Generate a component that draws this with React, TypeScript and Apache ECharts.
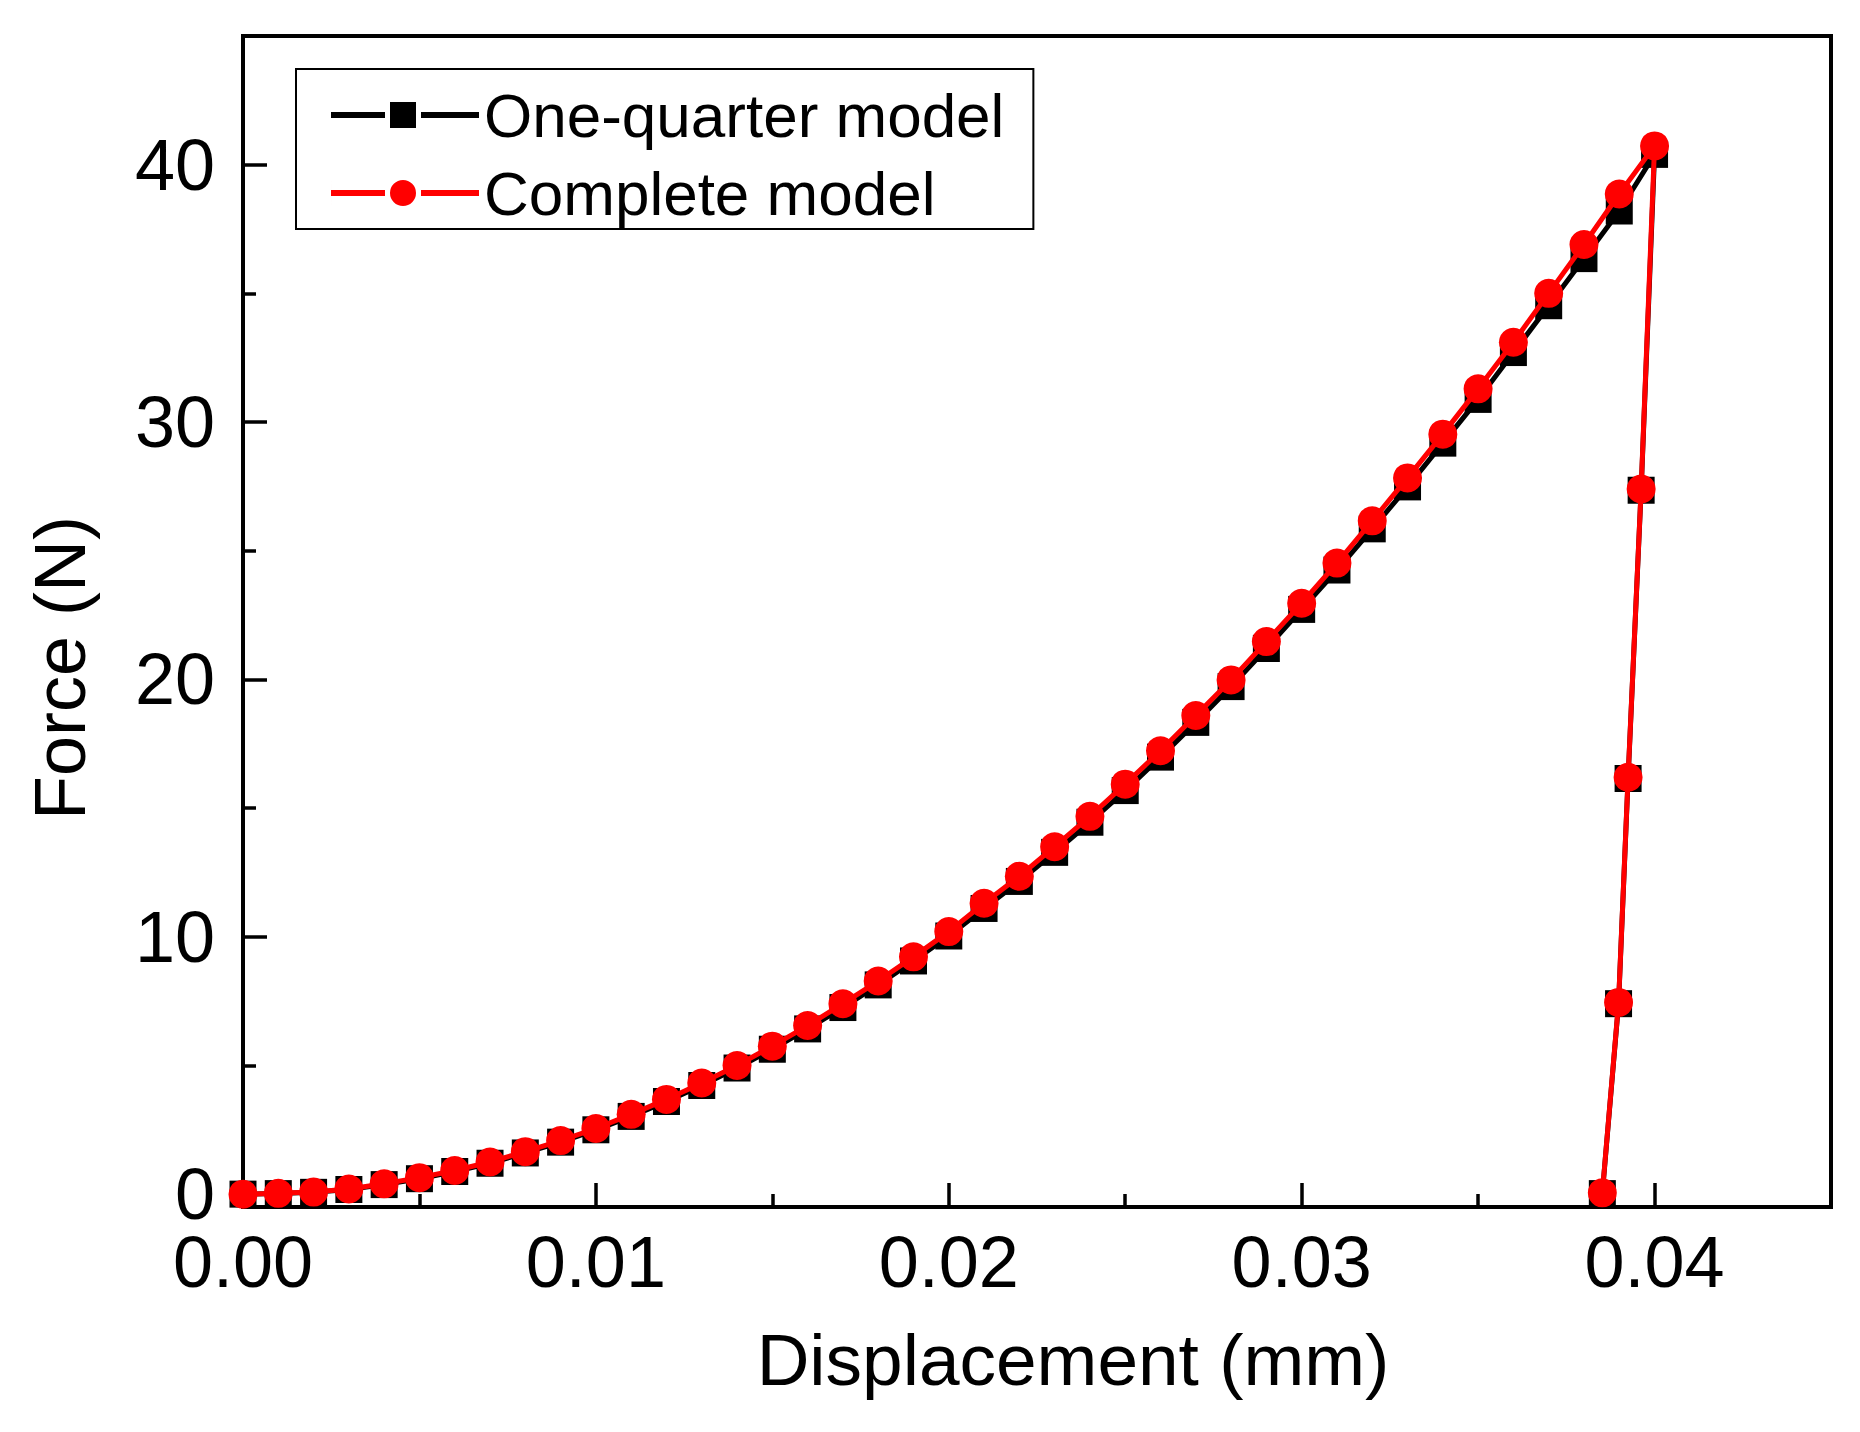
import React, { useEffect, useRef } from "react";
import * as echarts from "echarts";

// Displacement (mm) for the loading branch and the unloading branch
const loadDisplacement = [
  0, 0.001, 0.002, 0.003, 0.004, 0.005, 0.006, 0.007, 0.008, 0.009,
  0.01, 0.011, 0.012, 0.013, 0.014, 0.015, 0.016, 0.017, 0.018, 0.019,
  0.02, 0.021, 0.022, 0.023, 0.024, 0.025, 0.026, 0.027, 0.028, 0.029,
  0.03, 0.031, 0.032, 0.033, 0.034, 0.035, 0.036, 0.037, 0.038, 0.039,
  0.04,
];
const unloadDisplacement = [0.03962, 0.03925, 0.03898, 0.03852];

// Force (N) — One-quarter model
const quarterLoad = [
  0, 0.02, 0.07, 0.18, 0.37, 0.6, 0.88, 1.2, 1.6, 2.02,
  2.5, 3.02, 3.6, 4.22, 4.9, 5.63, 6.42, 7.25, 8.13, 9.06,
  10.03, 11.1, 12.15, 13.28, 14.45, 15.68, 16.98, 18.33, 19.72, 21.2,
  22.72, 24.25, 25.85, 27.48, 29.18, 30.88, 32.7, 34.52, 36.35, 38.2,
  40.4,
];
const quarterUnload = [27.35, 16.15, 7.4, 0.02];

// Force (N) — Complete model
const completeLoad = [
  0, 0.03, 0.08, 0.2, 0.4, 0.64, 0.92, 1.25, 1.65, 2.08,
  2.55, 3.1, 3.68, 4.32, 5.0, 5.75, 6.55, 7.4, 8.28, 9.22,
  10.2, 11.3, 12.35, 13.5, 14.68, 15.93, 17.23, 18.6, 19.98, 21.47,
  22.96, 24.52, 26.16, 27.83, 29.53, 31.29, 33.1, 35.0, 36.9, 38.86,
  40.73,
];
const completeUnload = [27.4, 16.2, 7.45, 0.05];

const seriesNames = ["One-quarter model", "Complete model"];

// Tick values
const xMajorTicks = [0, 0.01, 0.02, 0.03, 0.04];
const xMinorTicks = [0.005, 0.015, 0.025, 0.035];
const yMajorTicks = [0, 10, 20, 30, 40];
const yMinorTicks = [5, 15, 25, 35];

const xTitle = "Displacement (mm)";
const yTitle = "Force (N)";

const FONT = "'Liberation Sans', Arial, sans-serif";

// Legend icons: line – gap – marker – gap – line (148 x 26 box)
const ICON_SQUARE = "path://M0,10H54V16H0Z M59,0H85V26H59Z M90,10H148V16H90Z";
const ICON_CIRCLE =
  "path://M0,10H54V16H0Z M59,13A13,13 0 1,0 85,13A13,13 0 1,0 59,13Z M90,10H148V16H90Z M0,0H0.01V26H0Z";

function pairs(xs: number[], ys: number[]) {
  return xs.map((x, i) => [x, ys[i]]);
}

export default function App() {
  const ref = useRef<HTMLDivElement>(null);

  useEffect(() => {
    if (!ref.current) return;
    const chart = echarts.init(ref.current, null, { renderer: "svg" });

    const quarterData = [
      ...pairs(loadDisplacement, quarterLoad),
      ...pairs(unloadDisplacement, quarterUnload),
    ];
    const completeData = [
      ...pairs(loadDisplacement, completeLoad),
      ...pairs(unloadDisplacement, completeUnload),
    ];

    const axisCommon = {
      type: "value" as const,
      splitLine: { show: false },
    };

    chart.setOption({
      animation: false,
      backgroundColor: "#ffffff",
      grid: {
        left: 243,
        top: 36,
        width: 1588,
        height: 1171,
        show: true,
        borderColor: "#000",
        borderWidth: 4,
        backgroundColor: "transparent",
      },
      xAxis: [
        {
          ...axisCommon,
          min: 0,
          max: 0.045,
          position: "bottom",
          axisLine: { show: true, onZero: false, lineStyle: { color: "#000", width: 4 } },
          axisTick: {
            show: true,
            inside: true,
            length: 24,
            customValues: xMajorTicks,
            lineStyle: { color: "#000", width: 3.5 },
          },
          axisLabel: {
            show: true,
            customValues: xMajorTicks,
            margin: 24,
            fontSize: 72,
            lineHeight: 62,
            fontFamily: FONT,
            color: "#000",
            formatter: (v: number) => v.toFixed(2),
          },
        },
        {
          ...axisCommon,
          min: 0,
          max: 0.045,
          position: "bottom",
          axisLine: { show: false, onZero: false },
          axisLabel: { show: false },
          axisTick: {
            show: true,
            inside: true,
            length: 13,
            customValues: xMinorTicks,
            lineStyle: { color: "#000", width: 3.5 },
          },
        },
      ],
      yAxis: [
        {
          ...axisCommon,
          min: -0.5,
          max: 45,
          position: "left",
          axisLine: { show: true, onZero: false, lineStyle: { color: "#000", width: 4 } },
          axisTick: {
            show: true,
            inside: true,
            length: 24,
            customValues: yMajorTicks,
            lineStyle: { color: "#000", width: 3.5 },
          },
          axisLabel: {
            show: true,
            customValues: yMajorTicks,
            margin: 28,
            fontSize: 72,
            lineHeight: 60,
            fontFamily: FONT,
            color: "#000",
          },
        },
        {
          ...axisCommon,
          min: -0.5,
          max: 45,
          position: "left",
          axisLine: { show: false, onZero: false },
          axisLabel: { show: false },
          axisTick: {
            show: true,
            inside: true,
            length: 13,
            customValues: yMinorTicks,
            lineStyle: { color: "#000", width: 3.5 },
          },
        },
      ],
      legend: {
        left: 296,
        top: 69,
        orient: "vertical",
        itemWidth: 148,
        itemHeight: 26,
        itemGap: 16,
        padding: [15, 29, 5, 35],
        borderColor: "#000",
        borderWidth: 2,
        backgroundColor: "#fff",
        textStyle: { fontSize: 62, fontFamily: FONT, color: "#000", lineHeight: 62 },
        itemStyle: { borderWidth: 0 },
        data: [
          { name: seriesNames[0], icon: ICON_SQUARE },
          { name: seriesNames[1], icon: ICON_CIRCLE },
        ],
      },
      graphic: [
        {
          type: "text",
          x: 1073,
          y: 1359,
          style: {
            text: xTitle,
            fontSize: 73,
            fontFamily: FONT,
            fill: "#000",
            align: "center",
            verticalAlign: "middle",
          },
        },
        {
          type: "text",
          x: 60,
          y: 668,
          rotation: Math.PI / 2,
          style: {
            text: yTitle,
            fontSize: 72,
            fontFamily: FONT,
            fill: "#000",
            align: "center",
            verticalAlign: "middle",
          },
        },
      ],
      series: [
        {
          type: "line",
          name: seriesNames[0],
          xAxisIndex: 0,
          yAxisIndex: 0,
          data: quarterData,
          symbol: "rect",
          symbolSize: 27,
          color: "#000",
          itemStyle: { color: "#000" },
          lineStyle: { color: "#000", width: 5 },
          z: 2,
        },
        {
          type: "line",
          name: seriesNames[1],
          xAxisIndex: 0,
          yAxisIndex: 0,
          data: completeData,
          symbol: "circle",
          symbolSize: 29,
          color: "#ff0000",
          itemStyle: { color: "#ff0000" },
          lineStyle: { color: "#ff0000", width: 5 },
          z: 3,
        },
      ],
    });

    return () => chart.dispose();
  }, []);

  return (
    <div
      ref={ref}
      style={{
        position: "absolute",
        left: 0,
        top: 0,
        width: 1860,
        height: 1432,
        background: "#fff",
      }}
    />
  );
}
